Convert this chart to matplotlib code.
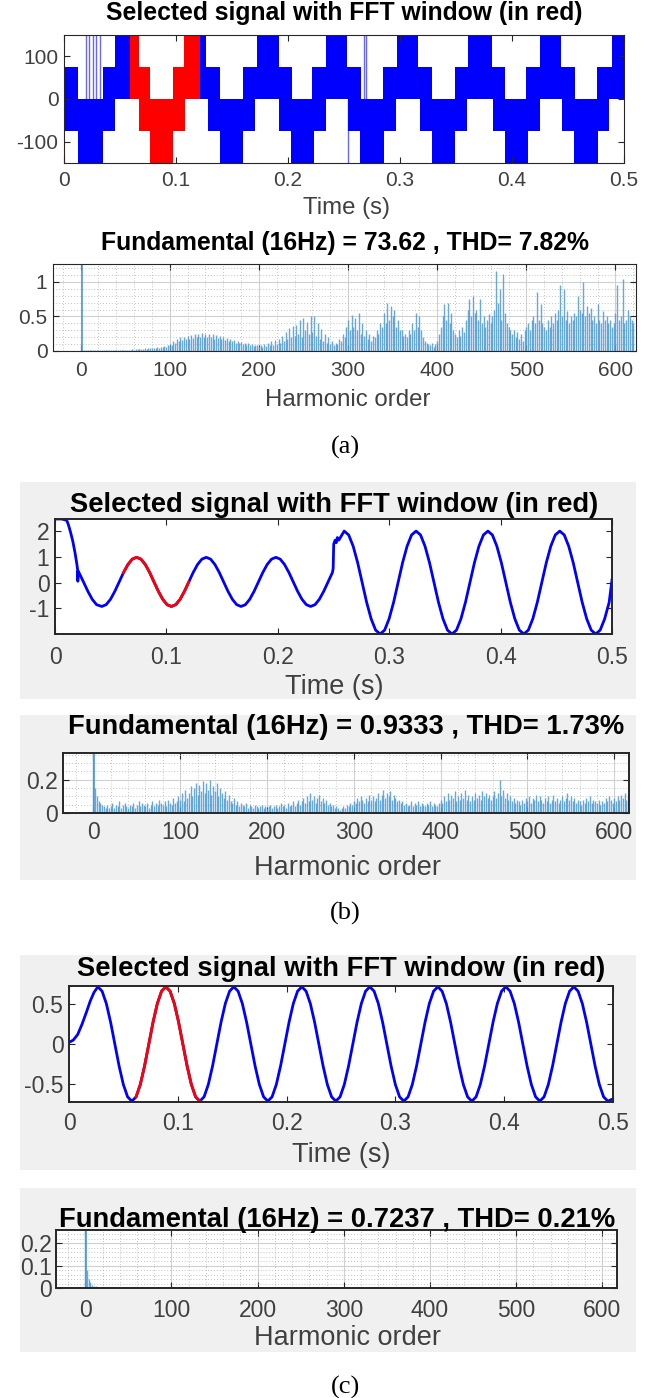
import numpy as np
import matplotlib
matplotlib.use('Agg')
import matplotlib.pyplot as plt
from matplotlib.patches import Rectangle
from matplotlib.ticker import MultipleLocator

plt.rcParams['font.family'] = ['Liberation Sans', 'DejaVu Sans']
plt.rcParams['axes.unicode_minus'] = False

W, H = 652, 1398

# ---------------- (a) multilevel inverter voltage --------------------------
# blue on-intervals (start, end) in s for each 75 V strip
strip_75_150 = [(0.0455, 0.067), (0.107, 0.127), (0.172, 0.192), (0.234, 0.253),
                (0.297, 0.316), (0.361, 0.382), (0.425, 0.444), (0.489, 0.5)]
strip_0_75 = [(0.0, 0.0128), (0.035, 0.0768), (0.0976, 0.139), (0.16, 0.204),
              (0.2215, 0.2655), (0.2848, 0.3288), (0.349, 0.394), (0.4126, 0.4566),
              (0.4755, 0.5)]
strip_m75_0 = [(0.0, 0.0455), (0.067, 0.108), (0.1285, 0.1705), (0.192, 0.234),
               (0.254, 0.296), (0.318, 0.36), (0.383, 0.425), (0.445, 0.487)]
strip_m150_m75 = [(0.0128, 0.035), (0.0768, 0.0976), (0.139, 0.16), (0.2025, 0.2235),
                  (0.2645, 0.2855), (0.3285, 0.3495), (0.3935, 0.4145), (0.4555, 0.4765)]
strips_a = [(75, strip_75_150), (0, strip_0_75), (-75, strip_m75_0), (-150, strip_m150_m75)]
# isolated switching spikes (t, vmin, vmax)
spikes_a = [(0.0197, 0, 150), (0.0226, 0, 150), (0.026, 0, 150), (0.029, 0, 150),
            (0.032, 0, 150), (0.2535, -150, 0), (0.2675, 0, 150), (0.2695, 0, 150)]
window_a = (0.0585, 0.121)

# harmonic spectrum (a), orders 0, 2, 4 ... 620
a_mag = [0.02, 0.01, 0.01, 0.01, 0.01, 0.01, 0.01, 0.01, 0.01, 0.01,
         0.01, 0.01, 0.015, 0.01, 0.01, 0.015, 0.01, 0.01, 0.015, 0.01,
         0.015, 0.01, 0.015, 0.02, 0.015, 0.02, 0.015, 0.02, 0.02, 0.025,
         0.02, 0.03, 0.025, 0.03, 0.035, 0.03, 0.04, 0.035, 0.04, 0.045,
         0.04, 0.05, 0.045, 0.055, 0.05, 0.06, 0.065, 0.07, 0.06, 0.08,
         0.1, 0.09, 0.15, 0.12, 0.18, 0.14, 0.2, 0.16, 0.21, 0.17,
         0.22, 0.18, 0.23, 0.19, 0.25, 0.2, 0.24, 0.21, 0.26, 0.2,
         0.25, 0.21, 0.24, 0.2, 0.25, 0.18, 0.23, 0.19, 0.22, 0.17,
         0.2, 0.16, 0.19, 0.15, 0.17, 0.14, 0.16, 0.12, 0.15, 0.11,
         0.13, 0.1, 0.12, 0.09, 0.11, 0.08, 0.1, 0.07, 0.09, 0.08,
         0.07, 0.09, 0.06, 0.1, 0.07, 0.12, 0.08, 0.14, 0.09, 0.16,
         0.1, 0.18, 0.12, 0.22, 0.15, 0.28, 0.18, 0.33, 0.2, 0.36,
         0.22, 0.38, 0.25, 0.45, 0.2, 0.48, 0.3, 0.42, 0.25, 0.5,
         0.28, 0.5, 0.22, 0.4, 0.18, 0.32, 0.15, 0.25, 0.12, 0.2,
         0.1, 0.15, 0.08, 0.12, 0.1, 0.18, 0.15, 0.25, 0.2, 0.35,
         0.45, 0.3, 0.52, 0.35, 0.48, 0.3, 0.55, 0.25, 0.4, 0.22,
         0.3, 0.18, 0.25, 0.15, 0.22, 0.2, 0.3, 0.25, 0.4, 0.35,
         0.55, 0.4, 0.7, 0.45, 0.65, 0.5, 0.6, 0.35, 0.45, 0.3,
         0.3, 0.22, 0.25, 0.2, 0.3, 0.25, 0.4, 0.3, 0.55, 0.35,
         0.5, 0.3, 0.2, 0.15, 0.12, 0.1, 0.08, 0.12, 0.06, 0.1,
         0.15, 0.25, 0.35, 0.5, 0.68, 0.45, 0.7, 0.4, 0.55, 0.3,
         0.25, 0.2, 0.3, 0.22, 0.35, 0.28, 0.45, 0.6, 0.75, 0.5,
         0.8, 0.55, 0.6, 0.45, 0.75, 0.4, 0.5, 0.35, 0.45, 0.53,
         0.4, 0.5, 0.6, 1.16, 0.7, 0.9, 0.45, 1.12, 0.55, 0.4,
         0.35, 0.3, 0.25, 0.3, 0.2, 0.28, 0.18, 0.25, 0.15, 0.3,
         0.35, 0.4, 0.3, 0.45, 0.5, 0.4, 0.85, 0.45, 0.68, 0.4,
         0.35, 0.3, 0.45, 0.35, 0.5, 0.4, 0.55, 0.45, 0.6, 0.95,
         0.5, 0.9, 0.45, 0.58, 0.4, 0.5, 0.45, 0.55, 0.5, 0.8,
         0.6, 0.55, 1.0, 0.5, 0.65, 0.55, 0.63, 0.45, 0.5, 0.4,
         0.68, 0.45, 0.4, 0.58, 0.45, 0.5, 0.4, 0.45, 0.35, 0.4,
         0.55, 0.96, 0.45, 0.5, 1.04, 0.4, 0.45, 0.6, 0.5, 0.45,
         0.4]

# ---------------- (b) filtered voltage -----------------------------------
b_t_start = [0.0, 0.003, 0.006, 0.0105, 0.012, 0.014, 0.016, 0.018, 0.0195,
             0.0203, 0.0205, 0.0208, 0.0256, 0.0295, 0.0334, 0.0373]
b_v_start = [2.47, 2.47, 2.47, 2.42, 2.25, 1.95, 1.6, 1.15, 0.75,
             0.5, 0.05, 0.45, 0.02, -0.34, -0.65, -0.86]
# 16 samples per cycle from the first trough (t = 0.042 s)
b_v_low = [-0.93, -0.86, -0.65, -0.34, 0.02, 0.39, 0.7, 0.91, 0.98, 0.91, 0.7, 0.39, 0.02, -0.34, -0.65, -0.86,
           -0.93, -0.86, -0.65, -0.34, 0.02, 0.39, 0.7, 0.91, 0.98, 0.91, 0.7, 0.39, 0.02, -0.34, -0.65, -0.86,
           -0.93, -0.86, -0.65, -0.34, 0.02, 0.39, 0.7, 0.91, 0.98, 0.91, 0.7, 0.39, 0.02, -0.34, -0.65, -0.86,
           -0.93, -0.86, -0.65, -0.34, 0.02, 0.39]
b_t_jump = [0.2497, 0.2502, 0.2515, 0.2525, 0.2535, 0.2548]
b_v_jump = [0.55, 1.5, 1.65, 1.55, 1.75, 1.65]
# 16 samples per cycle from the first high peak (t = 0.2596 s)
b_v_high = [2.0, 1.85, 1.41, 0.77, 0.0, -0.77, -1.41, -1.85, -2.0, -1.85, -1.41, -0.77, 0.0, 0.77, 1.41, 1.85,
            2.0, 1.85, 1.41, 0.77, 0.0, -0.77, -1.41, -1.85, -2.0, -1.85, -1.41, -0.77, 0.0, 0.77, 1.41, 1.85,
            2.0, 1.85, 1.41, 0.77, 0.0, -0.77, -1.41, -1.85, -2.0, -1.85, -1.41, -0.77, 0.0, 0.77, 1.41, 1.85,
            2.0, 1.85, 1.41, 0.77, 0.0, -0.77, -1.41, -1.85, -2.0, -1.85, -1.41, -0.77, 0.1]
window_b = (0.06, 0.1225)

b_mag = [0.36, 0.15, 0.1, 0.07, 0.06, 0.05, 0.04, 0.03, 0.05, 0.03,
         0.04, 0.06, 0.03, 0.05, 0.04, 0.07, 0.03, 0.05, 0.06, 0.04,
         0.03, 0.05, 0.04, 0.06, 0.03, 0.05, 0.07, 0.04, 0.06, 0.05,
         0.04, 0.06, 0.03, 0.05, 0.07, 0.04, 0.06, 0.05, 0.08, 0.06,
         0.05, 0.07, 0.04, 0.08, 0.06, 0.05, 0.09, 0.06, 0.07, 0.1,
         0.08, 0.12, 0.07, 0.14, 0.09, 0.12, 0.16, 0.1, 0.15, 0.18,
         0.11, 0.17, 0.13, 0.19, 0.12, 0.18, 0.14, 0.2, 0.11, 0.16,
         0.13, 0.18, 0.1, 0.15, 0.12, 0.09, 0.13, 0.08, 0.11, 0.07,
         0.06, 0.09, 0.05, 0.07, 0.04, 0.06, 0.05, 0.04, 0.06, 0.03,
         0.05, 0.04, 0.03, 0.05, 0.04, 0.03, 0.04, 0.05, 0.03, 0.04,
         0.03, 0.04, 0.05, 0.03, 0.04, 0.05, 0.03, 0.04, 0.06, 0.04,
         0.05, 0.03, 0.06, 0.04, 0.05, 0.07, 0.04, 0.06, 0.08, 0.05,
         0.07, 0.09, 0.06, 0.1, 0.07, 0.12, 0.08, 0.1, 0.06, 0.09,
         0.11, 0.07, 0.09, 0.06, 0.08, 0.05, 0.06, 0.04, 0.05, 0.03,
         0.04, 0.03, 0.02, 0.03, 0.04, 0.03, 0.05, 0.04, 0.06, 0.05,
         0.07, 0.06, 0.09, 0.07, 0.1, 0.08, 0.06, 0.09, 0.07, 0.11,
         0.08, 0.1, 0.07, 0.09, 0.12, 0.08, 0.11, 0.14, 0.09, 0.12,
         0.1, 0.13, 0.08, 0.11, 0.09, 0.07, 0.08, 0.06, 0.07, 0.05,
         0.06, 0.04, 0.05, 0.07, 0.04, 0.06, 0.05, 0.07, 0.04, 0.06,
         0.05, 0.04, 0.06, 0.05, 0.07, 0.04, 0.06, 0.05, 0.04, 0.06,
         0.08, 0.06, 0.1, 0.07, 0.12, 0.08, 0.11, 0.09, 0.13, 0.07,
         0.1, 0.08, 0.12, 0.09, 0.14, 0.08, 0.11, 0.07, 0.1, 0.08,
         0.12, 0.09, 0.11, 0.08, 0.13, 0.1, 0.12, 0.09, 0.11, 0.08,
         0.1, 0.13, 0.09, 0.12, 0.2, 0.1, 0.14, 0.09, 0.12, 0.08,
         0.1, 0.07, 0.09, 0.06, 0.08, 0.07, 0.05, 0.08, 0.06, 0.09,
         0.07, 0.1, 0.06, 0.09, 0.08, 0.11, 0.07, 0.1, 0.08, 0.06,
         0.09, 0.07, 0.1, 0.06, 0.08, 0.11, 0.07, 0.09, 0.06, 0.08,
         0.1, 0.07, 0.09, 0.12, 0.08, 0.1, 0.07, 0.09, 0.06, 0.08,
         0.07, 0.05, 0.08, 0.06, 0.09, 0.07, 0.1, 0.06, 0.08, 0.07,
         0.06, 0.08, 0.05, 0.07, 0.06, 0.09, 0.07, 0.1, 0.08, 0.06,
         0.09, 0.07, 0.1, 0.08, 0.11, 0.09, 0.12, 0.08, 0.1, 0.07,
         0.09]

# ---------------- (c) output voltage -------------------------------------
c_t_start = [0.0, 0.004, 0.008, 0.012, 0.016, 0.0195, 0.023]
c_v_start = [0.02, 0.05, 0.12, 0.25, 0.4, 0.54, 0.65]
# 16 samples per cycle from the first peak (t = 0.0265 s)
c_v = [0.72, 0.665, 0.509, 0.276, 0.0, -0.276, -0.509, -0.665, -0.72, -0.665, -0.509, -0.276, 0.0, 0.276, 0.509, 0.665,
       0.72, 0.665, 0.509, 0.276, 0.0, -0.276, -0.509, -0.665, -0.72, -0.665, -0.509, -0.276, 0.0, 0.276, 0.509, 0.665,
       0.72, 0.665, 0.509, 0.276, 0.0, -0.276, -0.509, -0.665, -0.72, -0.665, -0.509, -0.276, 0.0, 0.276, 0.509, 0.665,
       0.72, 0.665, 0.509, 0.276, 0.0, -0.276, -0.509, -0.665, -0.72, -0.665, -0.509, -0.276, 0.0, 0.276, 0.509, 0.665,
       0.72, 0.665, 0.509, 0.276, 0.0, -0.276, -0.509, -0.665, -0.72, -0.665, -0.509, -0.276, 0.0, 0.276, 0.509, 0.665,
       0.72, 0.665, 0.509, 0.276, 0.0, -0.276, -0.509, -0.665, -0.72, -0.665, -0.509, -0.276, 0.0, 0.276, 0.509, 0.665,
       0.72, 0.665, 0.509, 0.276, 0.0, -0.276, -0.509, -0.665, -0.72, -0.665, -0.509, -0.276, 0.0, 0.276, 0.509, 0.665,
       0.72, 0.665, 0.509, 0.276, 0.0, -0.276, -0.509, -0.665, -0.72, -0.69]
window_c = (0.0595, 0.122)

c_mag = [0.26, 0.08, 0.04, 0.025, 0.015, 0.01, 0.008, 0.006, 0.004, 0.004, 0.003, 0.002]

titles = ['Selected signal with FFT window (in red)',
          'Fundamental (16Hz) = 73.62 , THD= 7.82%',
          'Fundamental (16Hz) = 0.9333 , THD= 1.73%',
          'Fundamental (16Hz) = 0.7237 , THD= 0.21%']

# ------------------------------------------------------------------------
fig = plt.figure(figsize=(W / 100, H / 100), dpi=100)
fig.patch.set_facecolor('white')

def px_axes(l, t, r, b):
    return fig.add_axes([l / W, 1 - b / H, (r - l) / W, (b - t) / H])

def gray_box(l, t, r, b):
    fig.patches.append(Rectangle((l / W, 1 - b / H), (r - l) / W, (b - t) / H,
                                 transform=fig.transFigure, facecolor='#f0f0f0',
                                 edgecolor='none', zorder=-10))

def ftext(x, y, s, **kw):
    fig.text(x / W, 1 - y / H, s, ha='center', va='center', **kw)

TXT = '#404040'

def style(ax, lw, tsize, xpad, ypad=4):
    for s in ax.spines.values():
        s.set_color('#262626')
        s.set_linewidth(lw)
    ax.tick_params(direction='in', top=True, right=True, length=4, width=0.8,
                   labelsize=tsize, colors='#262626', labelcolor=TXT)
    ax.tick_params(axis='x', pad=xpad)
    ax.tick_params(axis='y', pad=ypad)
    ax.tick_params(which='minor', length=0)

def signal_axes(ax):
    ax.set_xlim(0, 0.5)
    ax.set_xticks([0, 0.1, 0.2, 0.3, 0.4, 0.5])
    ax.set_xticklabels(['0', '0.1', '0.2', '0.3', '0.4', '0.5'])

def spectrum_axes(ax, xlim, ylim, ymajor, yminor):
    ax.set_xlim(*xlim)
    ax.set_ylim(*ylim)
    ax.set_xticks([0, 100, 200, 300, 400, 500, 600])
    ax.xaxis.set_minor_locator(MultipleLocator(20))
    ax.yaxis.set_major_locator(MultipleLocator(ymajor))
    ax.yaxis.set_minor_locator(MultipleLocator(yminor))
    ax.grid(which='major', color='#d0d0d0', lw=0.8)
    ax.grid(which='minor', color='#b0b0b0', lw=0.6, ls=(0, (1, 2.5)))
    ax.set_axisbelow(True)

def draw_spectrum(ax, orders, mags):
    ax.vlines(orders, 0, mags, color='#4d9ad8', lw=1.0, alpha=0.85)
    ax.vlines([1], 0, [100], color='#4d9ad8', lw=1.2)

# ---- (a) top
ax = px_axes(64, 35, 624, 163)
style(ax, 0.8, 15, 6)
for low, ivals in strips_a:
    ax.broken_barh([(s, e - s) for s, e in ivals], (low, 75), facecolor='#0000ff', edgecolor='none')
    red = [(max(s, window_a[0]), min(e, window_a[1])) for s, e in ivals]
    red = [(s, e - s) for s, e in red if e > s]
    ax.broken_barh(red, (low, 75), facecolor='#ff0000', edgecolor='none')
for t, lo, hi in spikes_a:
    ax.vlines(t, lo, hi, color='#0000ff', lw=1.0, alpha=0.6)
ax.set_ylim(-150, 150)
ax.set_yticks([-100, 0, 100])
signal_axes(ax)
ftext(344, 13, titles[0], fontsize=17.8, fontweight='bold')
ftext(346, 208, 'Time (s)', fontsize=17.3, color=TXT)

# ---- (a) spectrum
ax = px_axes(53, 264, 636, 351)
style(ax, 0.8, 15, 7)
draw_spectrum(ax, np.arange(0, 621, 2), a_mag)
spectrum_axes(ax, (-31, 623), (0, 1.26), 0.5, 0.1)
ax.set_yticks([0, 0.5, 1])
ax.set_yticklabels(['0', '0.5', '1'])
ftext(345, 243, titles[1], fontsize=17.8, fontweight='bold')
ftext(348, 400, 'Harmonic order', fontsize=17.3, color=TXT)
ftext(345, 447, '(a)', family='Liberation Serif', fontsize=19)

# ---- (b) top
gray_box(20, 482, 636, 699)
ax = px_axes(55, 519, 612, 634)
style(ax, 1.4, 16.5, 9)
b_t = np.concatenate([b_t_start, 0.042 + np.arange(len(b_v_low)) * 0.0625 / 16,
                      b_t_jump, 0.2596 + np.arange(len(b_v_high) - 1) * 0.0645 / 16, [0.5]])
b_v = np.concatenate([b_v_start, b_v_low, b_v_jump, b_v_high])
ax.plot(b_t, b_v, color='#0000ff', lw=2)
m = (b_t >= window_b[0]) & (b_t <= window_b[1])
ax.plot(b_t[m], b_v[m], color='#ff0000', lw=2)
ax.set_ylim(-2.0, 2.47)
ax.set_yticks([-1, 0, 1, 2])
signal_axes(ax)
ftext(334, 505, titles[0], fontsize=19.7, fontweight='bold')
ftext(334, 687, 'Time (s)', fontsize=19.5, color=TXT)

# ---- (b) spectrum
gray_box(20, 715, 636, 880)
ax = px_axes(63, 753, 629, 813)
style(ax, 1.4, 16.5, 6)
draw_spectrum(ax, np.arange(0, 621, 2), b_mag)
spectrum_axes(ax, (-35, 617), (0, 0.36), 0.2, 0.05)
ax.set_yticks([0, 0.2])
ax.set_yticklabels(['0', '0.2'])
ftext(346, 727, titles[2], fontsize=19.7, fontweight='bold')
ftext(348, 868, 'Harmonic order', fontsize=19.5, color=TXT)
ftext(345, 913, '(b)', family='Liberation Serif', fontsize=19)

# ---- (c) top
gray_box(20, 955, 636, 1170)
ax = px_axes(69, 986, 613, 1102)
style(ax, 1.4, 16.5, 7)
c_t = np.concatenate([c_t_start, 0.0265 + np.arange(len(c_v) - 1) * 0.0625 / 16, [0.5]])
c_vals = np.concatenate([c_v_start, c_v])
ax.plot(c_t, c_vals, color='#0000ff', lw=2)
m = (c_t >= window_c[0]) & (c_t <= window_c[1])
ax.plot(c_t[m], c_vals[m], color='#ff0000', lw=2)
ax.set_ylim(-0.73, 0.73)
ax.set_yticks([-0.5, 0, 0.5])
ax.set_yticklabels(['-0.5', '0', '0.5'])
signal_axes(ax)
ftext(341, 969, titles[0], fontsize=19.7, fontweight='bold')
ftext(341, 1155, 'Time (s)', fontsize=19.5, color=TXT)

# ---- (c) spectrum
gray_box(20, 1188, 636, 1352)
ax = px_axes(56, 1230, 617, 1288)
style(ax, 1.4, 16.5, 8, 3)
draw_spectrum(ax, np.arange(0, 2 * len(c_mag), 2), c_mag)
spectrum_axes(ax, (-34, 617), (0, 0.26), 0.1, 0.02)
ax.set_yticks([0, 0.1, 0.2])
ax.set_yticklabels(['0', '0.1', '0.2'])
ftext(337, 1220, titles[3], fontsize=19.7, fontweight='bold')
ftext(348, 1338, 'Harmonic order', fontsize=19.5, color=TXT)
ftext(345, 1387, '(c)', family='Liberation Serif', fontsize=19)

fig.savefig('out.png', dpi=100)
